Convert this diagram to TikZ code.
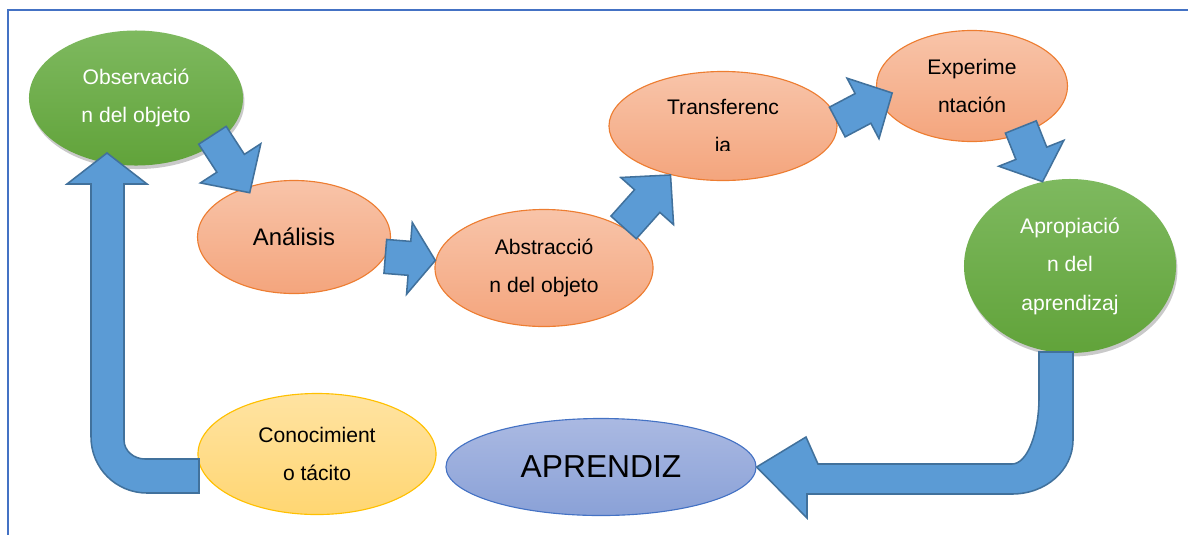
\documentclass[tikz,border=0pt]{standalone}
\usepackage{fontspec}
\setmainfont{Liberation Sans}
\usepackage{tikz}
\usetikzlibrary{calc,shapes,shadows,positioning}

\definecolor{arrfill}{HTML}{5B9BD5}
\definecolor{arrline}{HTML}{41719C}
\definecolor{ortop}{HTML}{F8C4A9}
\definecolor{orbot}{HTML}{F4A57D}
\definecolor{orline}{HTML}{ED7D31}
\definecolor{grtop}{HTML}{7EB95F}
\definecolor{grbot}{HTML}{61A33A}
\definecolor{yetop}{HTML}{FFE3A2}
\definecolor{yebot}{HTML}{FFD672}
\definecolor{yeline}{HTML}{FFC000}
\definecolor{bltop}{HTML}{AAB9E2}
\definecolor{blbot}{HTML}{8AA1D7}
\definecolor{blline}{HTML}{4472C4}

\newcommand{\pxu}{0.7113pt}
\newcommand{\blockarr}[5]{%
  \filldraw[barrow] let \p1=($(#2)-(#1)$), \n1={atan2(\y1,\x1)}, \n2={veclen(\x1,\y1)} in
    ($(#1)+(\n1+90:#3*\pxu)$) -- ($(#1)+(\n1:\n2-#5*\pxu)+(\n1+90:#3*\pxu)$)
    -- ($(#1)+(\n1:\n2-#5*\pxu)+(\n1+90:#4*\pxu)$) -- (#2)
    -- ($(#1)+(\n1:\n2-#5*\pxu)+(\n1-90:#4*\pxu)$)
    -- ($(#1)+(\n1:\n2-#5*\pxu)+(\n1-90:#3*\pxu)$)
    -- ($(#1)+(\n1-90:#3*\pxu)$) -- cycle;}

\tikzset{
  bubble/.style={ellipse, inner sep=0pt, align=center, font=\fontsize{15}{27.4}\selectfont},
  peach/.style={bubble, draw=orline, line width=0.8pt, top color=ortop, bottom color=orbot},
  greenbub/.style={bubble, text=white, top color=grtop, bottom color=grbot,
    drop shadow={shadow xshift=1pt, shadow yshift=-2.5pt, opacity=0.3, fill=black!70}},
  barrow/.style={fill=arrfill, draw=arrline, line width=1.1pt, line join=miter},
}

\begin{document}
\begin{tikzpicture}[x=0.025cm, y=-0.025cm]
        \useasboundingbox (0,0) rectangle (1188,535);
        \draw[blline, line width=1.4pt] (1188,10) -- (8,10) -- (8,535);

        \node[greenbub, minimum width=5.35cm, minimum height=3.375cm] (Obs) at (136,98) {Observació\\n del objeto};
        \node[peach, minimum width=4.825cm, minimum height=2.825cm, font=\fontsize{17}{20}\selectfont] (Analisis) at (294,237) {Análisis};
        \node[peach, minimum width=5.45cm, minimum height=2.925cm] (Abstrac) at (544,268) {Abstracció\\n del objeto};
        \node[peach, minimum width=5.7cm, minimum height=2.725cm] (Transf) at (723,126) {Transferenc\\\phantom{ia}};
        \begin{scope}
          \clip (600,60) rectangle (850,150);
          \node[bubble] (Transfia) at (Transf.center) {\phantom{Transferenc}\\ia};
        \end{scope}
        \node[peach, minimum width=4.775cm, minimum height=2.775cm] (Experim) at (972,86) {Experime\\ntación};
        \node[greenbub, minimum width=5.3cm, minimum height=4.35cm] (Aprop) at (1070,266) {Apropiació\\n del\\aprendizaj};
        \node[bubble, draw=yeline, line width=0.8pt, top color=yetop, bottom color=yebot,
          minimum width=5.95cm, minimum height=3.025cm] (Conoc) at (317,454) {Conocimient\\o tácito};
        \node[bubble, draw=blline, line width=0.8pt, top color=bltop, bottom color=blbot,
          minimum width=7.75cm, minimum height=2.425cm, font=\fontsize{22.6}{26}\selectfont] (Aprendiz) at (601,467) {APRENDIZ};

        \coordinate (a1s) at ($(Obs.center)!0.9!(Obs.-26)$);
        \coordinate (a1e) at ($(Analisis.center)!0.9!(Analisis.135)$);
        \coordinate (a4e) at ($(Experim.center)!0.84!(Experim.185)$);
        \coordinate (a5s) at ($(Experim.center)!0.89!(Experim.-40)$);

        \blockarr{a1s}{a1e}{16.4}{36}{35}
        \blockarr{Analisis.-12}{Abstrac.176}{17}{36}{26}
        \blockarr{Abstrac.27}{Transf.-137}{17}{35.4}{35}
        \blockarr{Transf.2}{a4e}{16.8}{34.2}{33}
        \blockarr{a5s}{Aprop.108}{16.6}{35}{30.5}

        \filldraw[barrow] (1039,352) -- (1039,397) .. controls (1039,434) and (1027,464) .. (1012,464)
          -- (818,464) -- (806,437) -- (Aprendiz.east) -- (807,518) -- (807,494) -- (1012,494)
          .. controls (1046,494) and (1073,470) .. (1073,440) -- (1073,352) -- cycle;
        \filldraw[barrow] (199,459) -- (145,459) .. controls (134,459) and (124,451) .. (124,440)
          -- (124,184) -- (147,184) -- (107,153) -- (67,184) -- (91,184) -- (91,437)
          .. controls (91,468) and (116,493) .. (147,493) -- (199,493) -- cycle;
      \end{tikzpicture}
\end{document}
